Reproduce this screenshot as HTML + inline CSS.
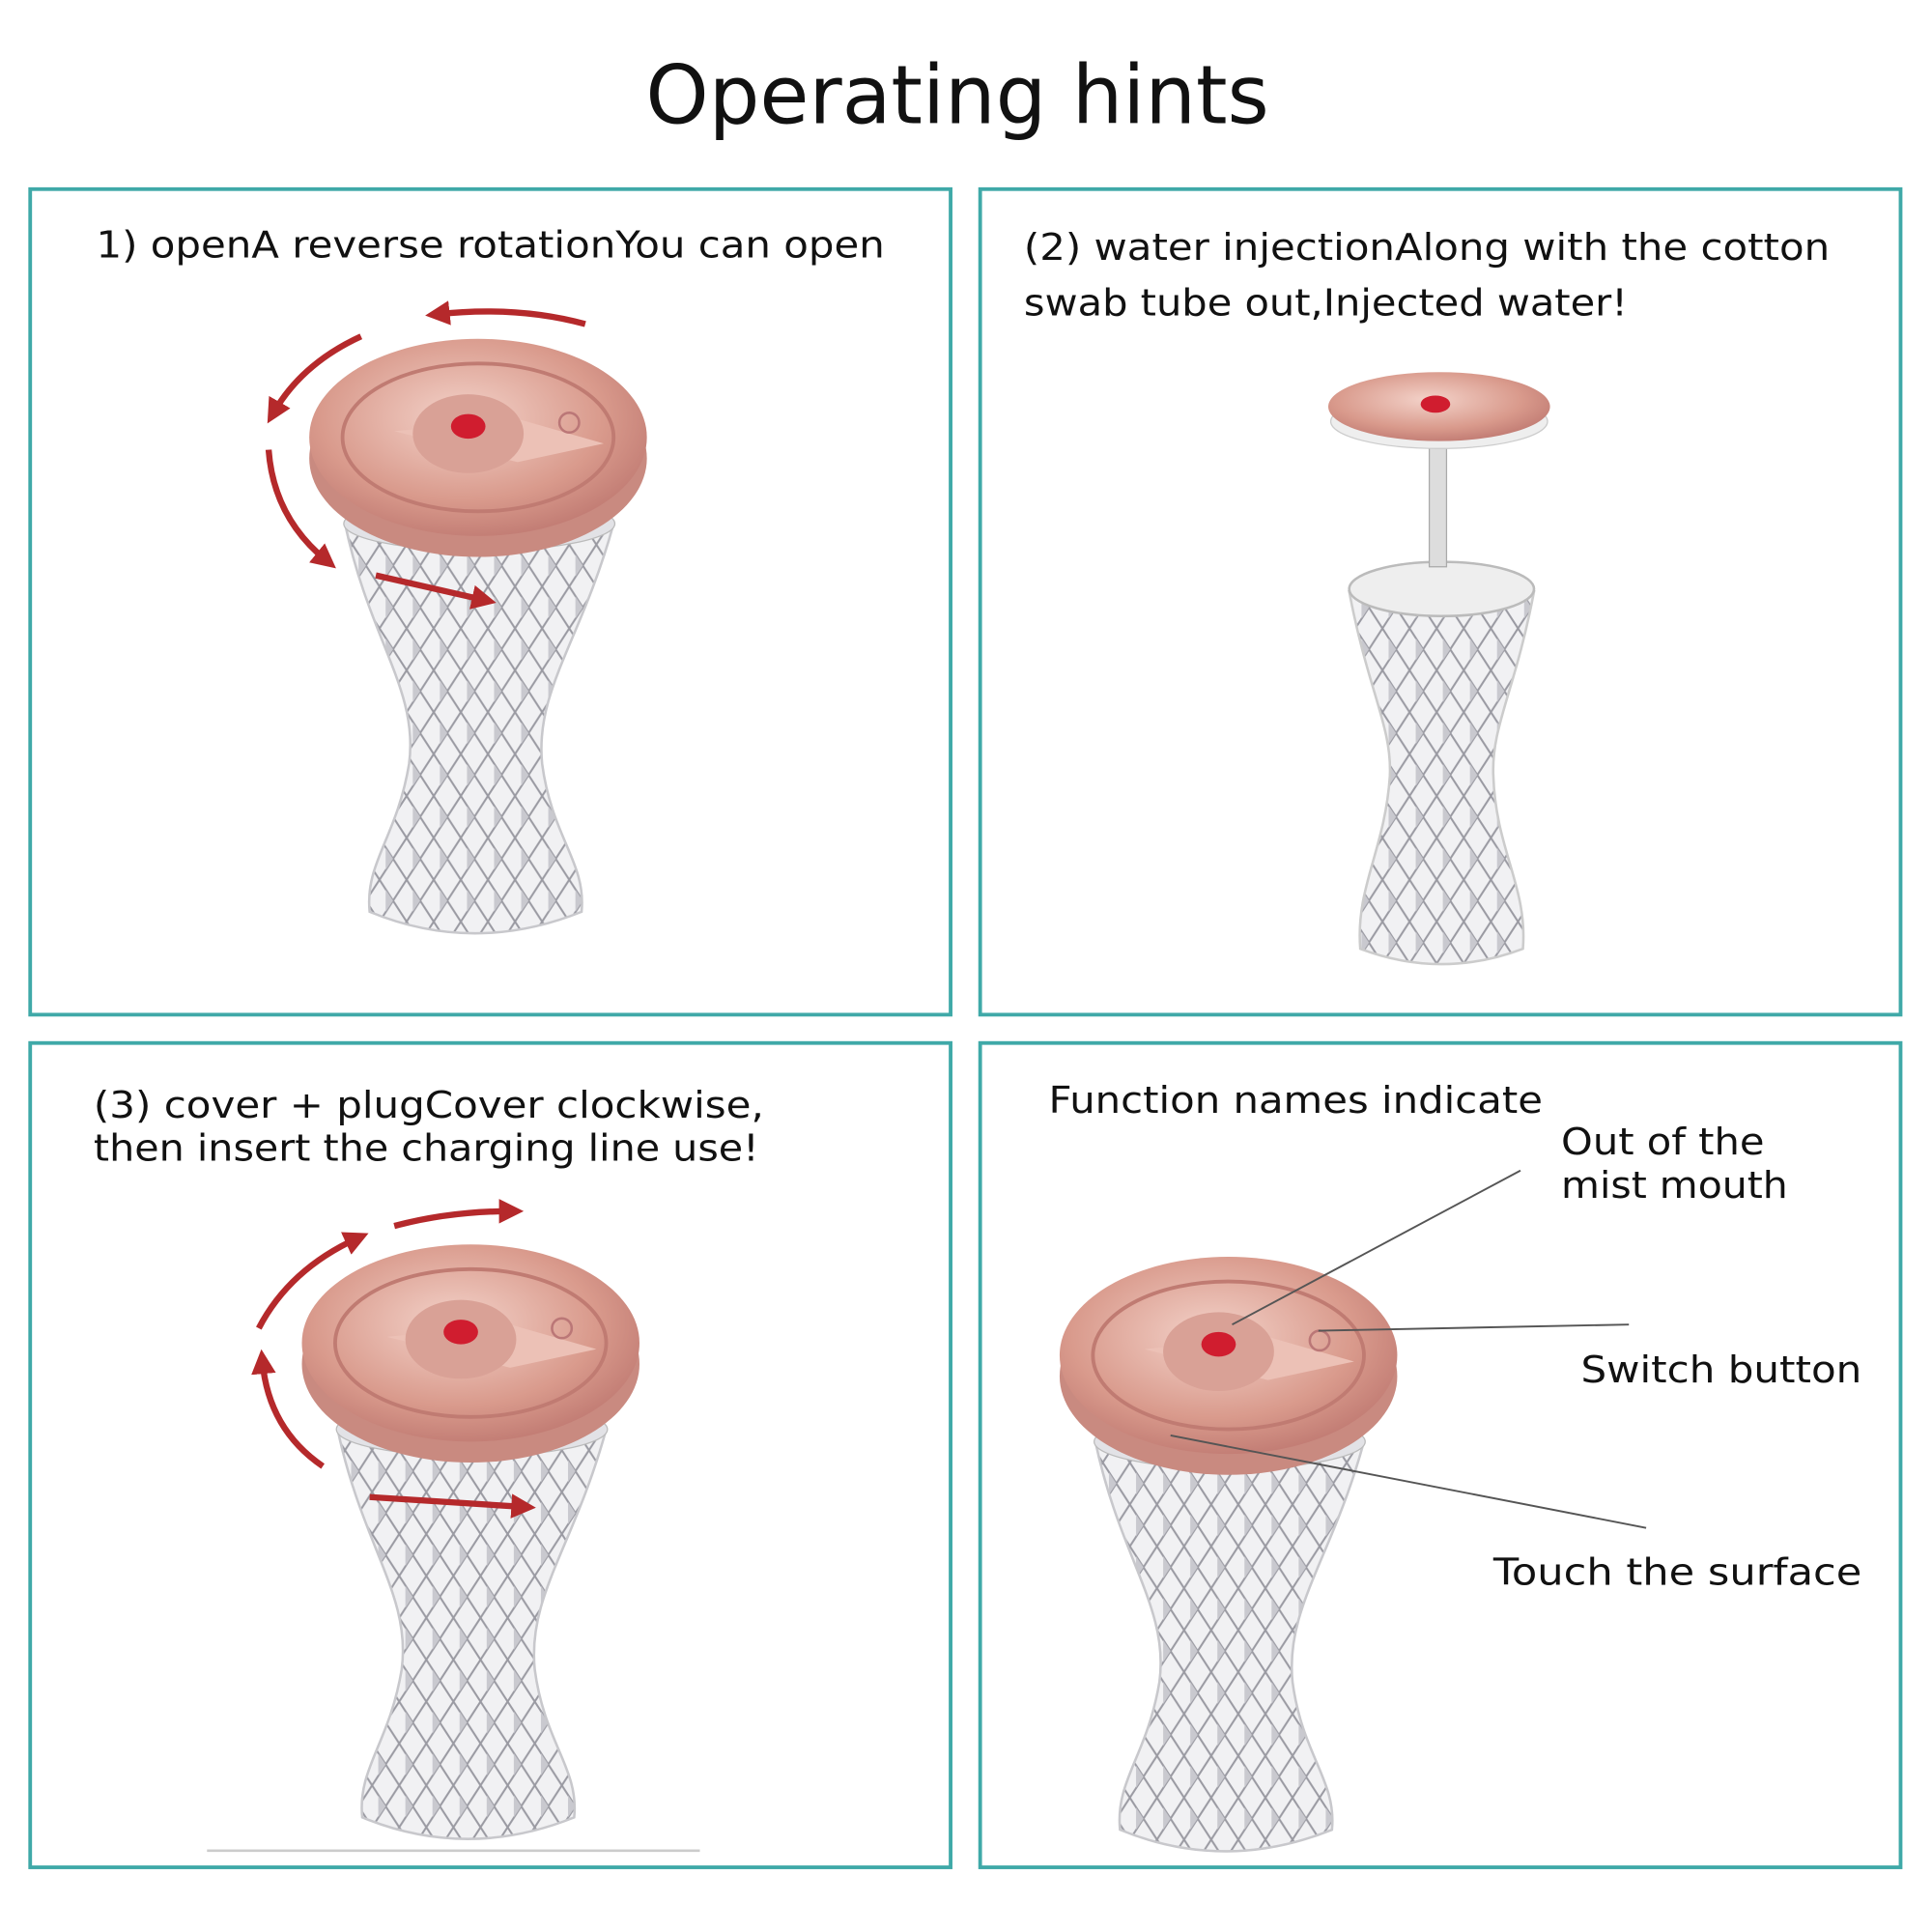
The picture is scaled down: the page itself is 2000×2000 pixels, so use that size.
<!DOCTYPE html>
<html><head><meta charset="utf-8"><style>
html,body{margin:0;padding:0;background:#fff}
svg{display:block}
text{font-family:"DejaVu Sans","Liberation Sans",sans-serif;fill:#111}
</style></head><body>
<svg width="2000" height="2000" viewBox="0 0 1568 1568" xmlns="http://www.w3.org/2000/svg">
<defs>
<pattern id="dia" width="22" height="34" patternUnits="userSpaceOnUse">
<rect width="22" height="34" fill="#f1f1f3"/>
<path d="M0 0 L11 17 L0 34 M22 0 L11 17 L22 34" stroke="#9a9aa2" stroke-width="1.6" fill="none"/>
<path d="M5 8 L11 17 L5 26Z" fill="#c9c9cf"/>
</pattern>
<radialGradient id="lid" cx="0.45" cy="0.4" r="0.7">
<stop offset="0" stop-color="#f3d2c9"/><stop offset="0.6" stop-color="#d99a8c"/><stop offset="1" stop-color="#b8706a"/>
</radialGradient>
<marker id="ah" viewBox="0 0 10 10" refX="5" refY="5" markerWidth="4" markerHeight="4" orient="auto-start-reverse">
<path d="M0 0 L10 5 L0 10z" fill="#b5292b"/></marker>
<g id="vase">
<path d="M280 425 C300 520,340 560,332 620 C322 680,296 700,300 740 Q385 775,472 740 C476 700,448 680,440 620 C434 560,472 520,498 425 Z" fill="url(#dia)" stroke="#c8c8cc" stroke-width="2"/>
<ellipse cx="389" cy="425" rx="110" ry="22" fill="#e2e2e6" stroke="#bbb"/>
<ellipse cx="388" cy="372" rx="137" ry="80" fill="#c98a80"/>
<ellipse cx="388" cy="355" rx="137" ry="80" fill="url(#lid)"/>
<ellipse cx="388" cy="355" rx="110" ry="60" fill="none" stroke="#c07b72" stroke-width="3"/>
<path d="M320 350 L420 340 L490 360 L420 375Z" fill="#ecc1b6"/>
<ellipse cx="380" cy="352" rx="45" ry="32" fill="#d9a196"/>
<ellipse cx="380" cy="346" rx="14" ry="10" fill="#d01d2f"/>
<circle cx="462" cy="343" r="8" fill="none" stroke="#b77" stroke-width="2"/>
</g>
</defs>

<text x="524" y="100" font-size="66" textLength="506" lengthAdjust="spacingAndGlyphs">Operating hints</text>

<g fill="none" stroke="#3fa9a8" stroke-width="3">
<rect x="24.5" y="153.5" width="747" height="670"/>
<rect x="795.5" y="153.5" width="747" height="670"/>
<rect x="24.5" y="846.5" width="747" height="669"/>
<rect x="795.5" y="846.5" width="747" height="669"/>
</g>

<g font-size="30" lengthAdjust="spacingAndGlyphs">
<text x="78" y="209" textLength="640" lengthAdjust="spacingAndGlyphs">1) openA reverse rotationYou can open</text>
<text x="831" y="211" textLength="654" lengthAdjust="spacingAndGlyphs">(2) water injectionAlong with the cotton</text>
<text x="831" y="256" textLength="490" lengthAdjust="spacingAndGlyphs">swab tube out,Injected water!</text>
<text x="76" y="907" textLength="544" lengthAdjust="spacingAndGlyphs">(3) cover + plugCover clockwise,</text>
<text x="76" y="942" textLength="540" lengthAdjust="spacingAndGlyphs">then insert the charging line use!</text>
<text x="851" y="903" textLength="401" lengthAdjust="spacingAndGlyphs">Function names indicate</text>
<text x="1267" y="937" textLength="165" lengthAdjust="spacingAndGlyphs">Out of the</text>
<text x="1267" y="972" textLength="184" lengthAdjust="spacingAndGlyphs">mist mouth</text>
<text x="1283" y="1122" textLength="228" lengthAdjust="spacingAndGlyphs">Switch button</text>
<text x="1212" y="1286" textLength="299" lengthAdjust="spacingAndGlyphs">Touch the surface</text>
</g>

<use href="#vase"/>
<use href="#vase" transform="translate(-6,735)"/>
<use href="#vase" transform="translate(609,745)"/>

<path d="M1095 480 C1110 560,1130 590,1128 630 C1124 690,1100 720,1104 770 Q1170 795,1236 770 C1240 720,1214 690,1212 630 C1210 590,1230 560,1245 480Z" fill="url(#dia)" stroke="#ccc" stroke-width="2"/>
<ellipse cx="1170" cy="478" rx="75" ry="22" fill="#eee" stroke="#bbb" stroke-width="2"/>
<rect x="1160" y="360" width="14" height="100" fill="#ddd" stroke="#aaa"/>
<ellipse cx="1168" cy="342" rx="88" ry="22" fill="#eee" stroke="#ccc"/>
<ellipse cx="1168" cy="330" rx="90" ry="28" fill="url(#lid)"/>
<ellipse cx="1165" cy="328" rx="12" ry="7" fill="#d01d2f"/>

<g fill="none" stroke="#b5292b" stroke-width="5" marker-end="url(#ah)">
<path d="M475 263 Q420 248 355 255"/>
<path d="M293 273 Q245 295 222 335"/>
<path d="M218 365 Q222 420 265 455"/>
<path d="M305 467 L393 487"/>
<path d="M320 995 Q365 983 415 983"/>
<path d="M210 1078 Q235 1030 290 1005"/>
<path d="M262 1190 Q218 1160 213 1105"/>
<path d="M300 1215 L425 1223"/>
</g>

<g stroke="#555" stroke-width="1.5">
<line x1="1234" y1="950" x2="1000" y2="1075"/>
<line x1="1322" y1="1075" x2="1070" y2="1080"/>
<line x1="1336" y1="1240" x2="950" y2="1165"/>
</g>
<line x1="168" y1="1502" x2="568" y2="1502" stroke="#ccc" stroke-width="2"/>
</svg>
</body></html>
